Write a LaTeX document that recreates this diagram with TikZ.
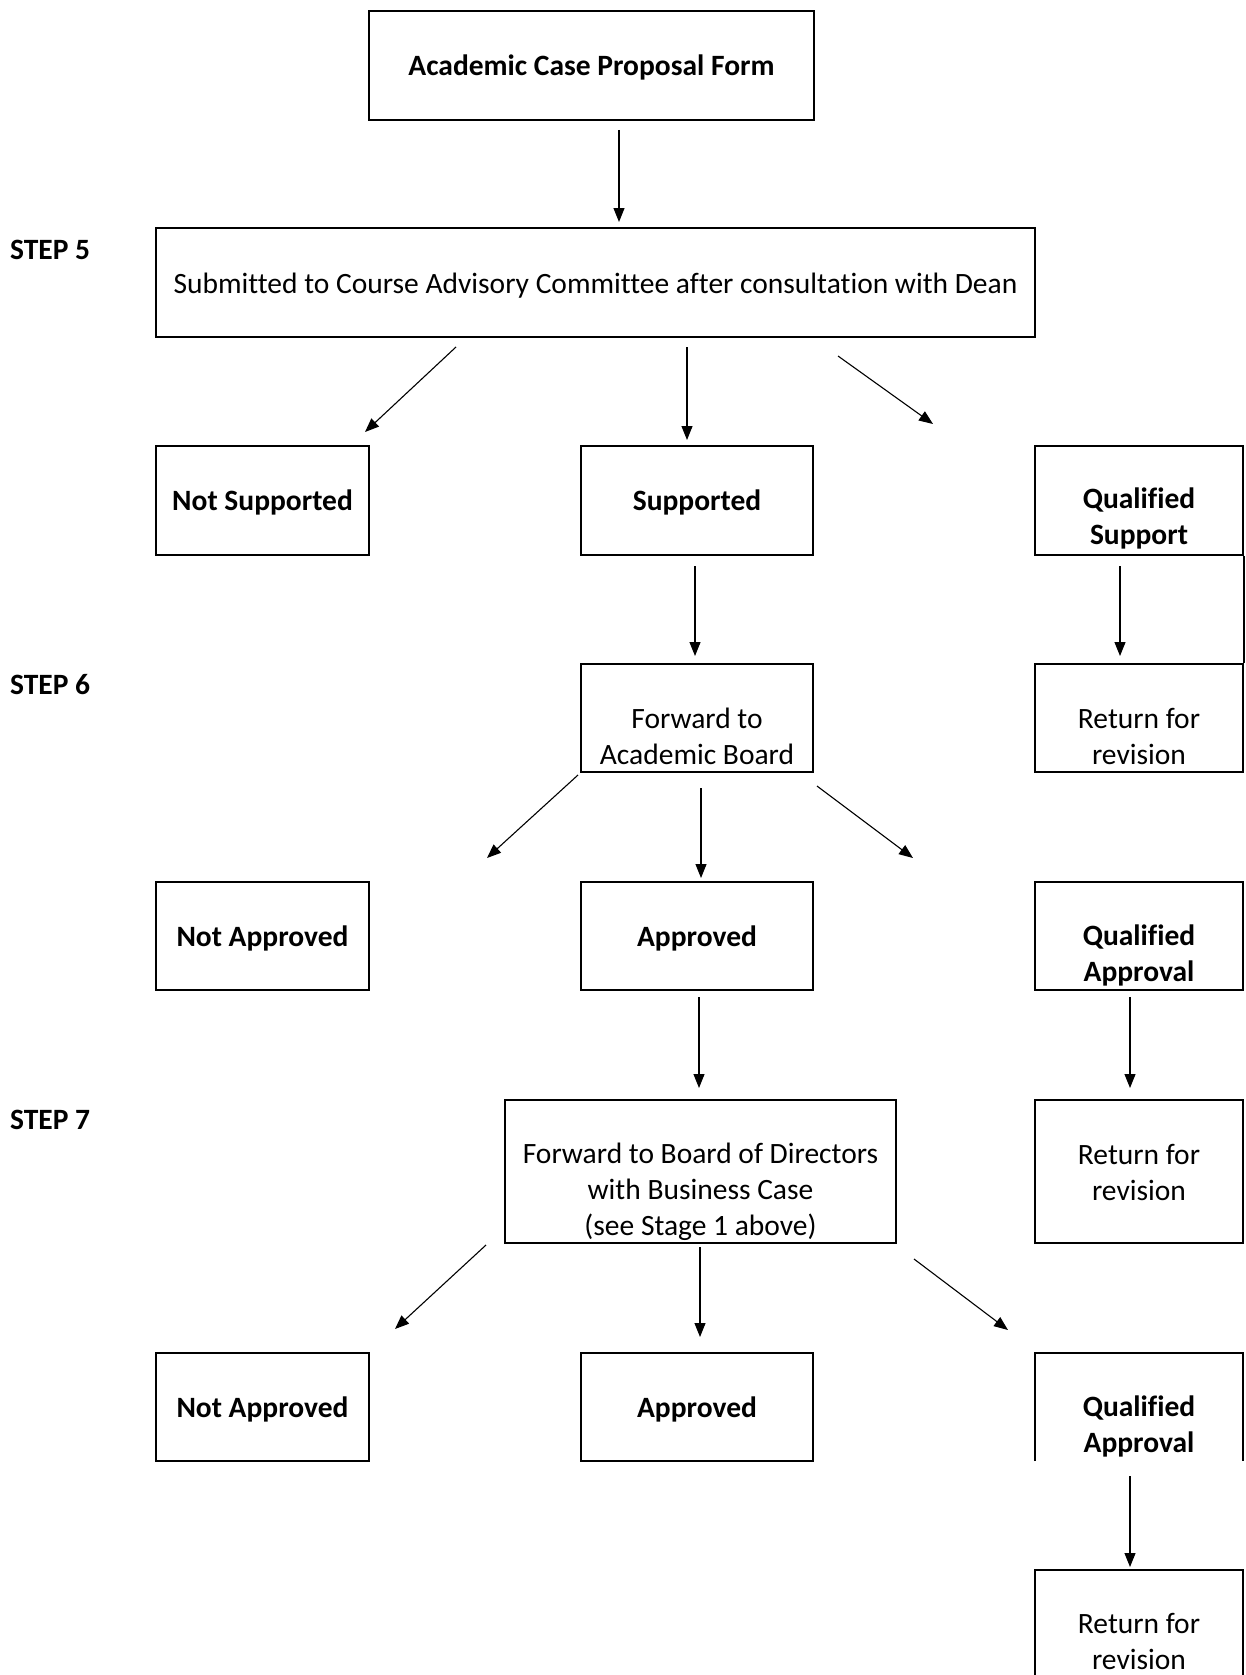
\documentclass[tikz,border=0pt]{standalone}
\usepackage{fontspec}
\setmainfont{Carlito}[Ligatures=NoCommon]
\usetikzlibrary{arrows.meta,calc}
\begin{document}
\begin{tikzpicture}[x=1pt,y=-1pt,
  box/.style={draw, line width=1.6pt, inner sep=0pt},
  openbox/.style={inner sep=0pt},
  txt/.style={font=\fontsize{29.5}{36}\selectfont, align=center, inner sep=0pt},
  btxt/.style={font=\fontsize{29.5}{36}\selectfont\bfseries, align=center, inner sep=0pt},
  arr/.style={-{Triangle[length=14pt,width=11pt]}, line width=1.1pt},
  edge/.style={line width=1.6pt}]
\useasboundingbox (0,0) rectangle (1246,1675);

% step labels
\node[btxt, anchor=west] (step5) at (10,250) {STEP 5};
\node[btxt, anchor=west] (step6) at (10,685) {STEP 6};
\node[btxt, anchor=west] (step7) at (10,1120) {STEP 7};

% boxes
\node[box, minimum width=445, minimum height=109] (top) at (591.5,65.5) {};
\node[btxt] (topt) at (591.5,67) {Academic Case Proposal Form};

\node[box, minimum width=879, minimum height=109] (s5) at (595.5,282.5) {};
\node[txt] (s5t) at (595.5,286) {Submitted to Course Advisory Committee after consultation with Dean};

\node[box, minimum width=213, minimum height=109] (ns) at (262.5,500.5) {};
\node[btxt] (nst) at (262.5,502) {Not Supported};
\node[box, minimum width=232, minimum height=109] (sup) at (697,500.5) {};
\node[btxt] (supt) at (697,502) {Supported};
\node[box, minimum width=208, minimum height=109] (qs) at (1139,500.5) {};
\node[btxt] (qst) at (1139,518.5) {Qualified\\Support};

\node[box, minimum width=232, minimum height=108] (fab) at (697,718) {};
\node[txt] (fabt) at (697,736.5) {Forward to\\Academic Board};
\node[box, minimum width=208, minimum height=108] (r1) at (1139,718) {};
\node[txt] (r1t) at (1139,736.5) {Return for\\revision};
\draw[edge] (qs.south east) -- (r1.north east);

\node[box, minimum width=213, minimum height=108] (na1) at (262.5,936) {};
\node[btxt] (na1t) at (262.5,938) {Not Approved};
\node[box, minimum width=232, minimum height=108] (ap1) at (697,936) {};
\node[btxt] (ap1t) at (697,938) {Approved};
\node[box, minimum width=208, minimum height=108] (qa1) at (1139,936) {};
\node[btxt] (qa1t) at (1139,955.5) {Qualified\\Approval};

\node[box, minimum width=391, minimum height=143] (fbd) at (700.5,1171.5) {};
\node[txt] (fbdt) at (700.5,1192) {Forward to Board of Directors\\with Business Case\\(see Stage 1 above)};
\node[box, minimum width=208, minimum height=143] (r2) at (1139,1171.5) {};
\node[txt] (r2t) at (1139,1172.5) {Return for\\revision};

\node[box, minimum width=213, minimum height=108] (na2) at (262.5,1407) {};
\node[btxt] (na2t) at (262.5,1409) {Not Approved};
\node[box, minimum width=232, minimum height=108] (ap2) at (697,1407) {};
\node[btxt] (ap2t) at (697,1409) {Approved};
\node[openbox, minimum width=208, minimum height=108] (qa2) at (1139,1407) {};
\draw[edge] (qa2.south west) |- (qa2.north east) -- (qa2.south east);
\node[btxt] (qa2t) at (1139,1426) {Qualified\\Approval};

\node[openbox, minimum width=208, minimum height=105] (r3) at (1139,1622.5) {};
\draw[edge] (r3.south west) |- (r3.north east) -- (r3.south east);
\node[txt] (r3t) at (1139,1641.5) {Return for\\revision};

% connector end points
\coordinate (a1s) at (619,130);  \coordinate (a1e) at (619,222);
\coordinate (b1s) at (456,347);  \coordinate (b1e) at (365,432);
\coordinate (b2s) at (687,347);  \coordinate (b2e) at (687,440);
\coordinate (b3s) at (838,356);  \coordinate (b3e) at (933,424);
\coordinate (c1s) at (695,566);  \coordinate (c1e) at (695,656);
\coordinate (c2s) at (1120,566); \coordinate (c2e) at (1120,656);
\coordinate (d1s) at (578,775);  \coordinate (d1e) at (487,858);
\coordinate (d2s) at (701,788);  \coordinate (d2e) at (701,878);
\coordinate (d3s) at (817,786);  \coordinate (d3e) at (913,858);
\coordinate (e1s) at (699,997);  \coordinate (e1e) at (699,1088);
\coordinate (e2s) at (1130,997); \coordinate (e2e) at (1130,1088);
\coordinate (f1s) at (486,1245); \coordinate (f1e) at (395,1329);
\coordinate (f2s) at (700,1247); \coordinate (f2e) at (700,1337);
\coordinate (f3s) at (914,1259); \coordinate (f3e) at (1008,1330);
\coordinate (g1s) at (1130,1476);\coordinate (g1e) at (1130,1567);

\foreach \p in {a1,b1,b2,b3,c1,c2,d1,d2,d3,e1,e2,f1,f2,f3,g1}
  \draw[arr] (\p s) -- (\p e);
\end{tikzpicture}
\end{document}
